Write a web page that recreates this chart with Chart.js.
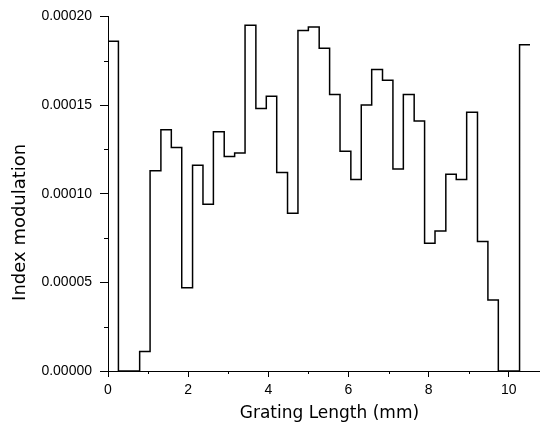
<!DOCTYPE html>
<html>
<head>
<meta charset="utf-8">
<script src="https://cdn.jsdelivr.net/npm/chart.js@4.4.1/dist/chart.umd.min.js"></script>
<style>
  html, body { margin: 0; padding: 0; background: #fff; }
  #wrap { width: 540px; height: 427px; }
</style>
</head>
<body>
<div id="wrap"><canvas id="gratingChart"></canvas></div>
<script>
// section boundaries along the grating (mm), 40 sections
const sectionEdges = [0, 0.26, 0.53, 0.79, 1.05, 1.32, 1.58, 1.84, 2.11, 2.37, 2.63,
    2.90, 3.16, 3.42, 3.69, 3.95, 4.21, 4.48, 4.74, 5.00, 5.27,
    5.53, 5.79, 6.06, 6.32, 6.58, 6.85, 7.11, 7.37, 7.64, 7.90,
    8.16, 8.43, 8.69, 8.95, 9.22, 9.48, 9.74, 10.01, 10.27, 10.53];

// index modulation of each section
const indexModulation = [0.000186, 0, 0, 0.000011, 0.000113, 0.000136, 0.000126, 0.000047, 0.000116, 0.000094,
    0.000135, 0.000121, 0.000123, 0.000195, 0.000148, 0.000155, 0.000112, 0.000089, 0.000192, 0.000194,
    0.000182, 0.000156, 0.000124, 0.000108, 0.000150, 0.000170, 0.000164, 0.000114, 0.000156, 0.000141,
    0.000072, 0.000079, 0.000111, 0.000108, 0.000146, 0.000073, 0.000040, 0, 0, 0.000184];

const xMajorTicks = [0, 2, 4, 6, 8, 10];
const xMinorTicks = [1, 3, 5, 7, 9];
const yMajorTicks = [0, 0.00005, 0.0001, 0.00015, 0.0002];
const yMinorTicks = [0.000025, 0.000075, 0.000125, 0.000175];

// step line: a section's value is held from its start edge to the next edge
const points = sectionEdges.map((x, i) => ({
    x: x,
    y: indexModulation[Math.min(i, indexModulation.length - 1)]
}));

const minorTicks = {
    id: 'minorTicks',
    afterDraw(chart) {
        const ctx = chart.ctx;
        const xs = chart.scales.x;
        const ys = chart.scales.y;
        ctx.save();
        ctx.strokeStyle = '#000';
        ctx.lineWidth = 1;
        ctx.beginPath();
        xMinorTicks.forEach(v => {
            const px = Math.round(xs.getPixelForValue(v)) + 0.5;
            ctx.moveTo(px, ys.bottom);
            ctx.lineTo(px, ys.bottom + 3);
        });
        yMinorTicks.forEach(v => {
            const py = Math.round(ys.getPixelForValue(v)) + 0.5;
            ctx.moveTo(xs.left - 4, py);
            ctx.lineTo(xs.left, py);
        });
        ctx.stroke();
        ctx.restore();
    }
};

const ctx = document.getElementById('gratingChart').getContext('2d');
new Chart(ctx, {
    type: 'line',
    data: {
        datasets: [{
            data: points,
            stepped: 'before',
            borderColor: '#000',
            borderWidth: 1.5,
            pointRadius: 0,
            fill: false
        }]
    },
    options: {
        responsive: true,
        maintainAspectRatio: false,
        animation: false,
        layout: { padding: { top: 15, right: 0, left: 0, bottom: 0 } },
        plugins: {
            legend: { display: false },
            tooltip: { enabled: false }
        },
        scales: {
            x: {
                type: 'linear',
                min: 0,
                max: 10.78,
                afterBuildTicks: s => { s.ticks = xMajorTicks.map(v => ({ value: v })); },
                afterFit: s => { s.height = 56; },
                grid: { drawOnChartArea: false, tickLength: 6, color: '#000' },
                border: { color: '#000', width: 1 },
                ticks: {
                    color: '#000',
                    padding: 5,
                    maxRotation: 0,
                    font: { family: 'Liberation Sans', size: 14 },
                    callback: v => String(v)
                },
                title: {
                    display: true,
                    text: '  Grating Length (mm)',
                    color: '#000',
                    font: { family: 'DejaVu Sans', size: 17 },
                    padding: { top: 0, bottom: 3 }
                }
            },
            y: {
                min: 0,
                max: 0.0002,
                afterBuildTicks: s => { s.ticks = yMajorTicks.map(v => ({ value: v })); },
                afterFit: s => { s.width = 108; },
                grid: { drawOnChartArea: false, tickLength: 8, color: '#000' },
                border: { color: '#000', width: 1 },
                ticks: {
                    color: '#000',
                    padding: 8,
                    font: { family: 'Liberation Sans', size: 14 },
                    callback: v => Number(v).toFixed(5)
                },
                title: {
                    display: true,
                    text: 'Index modulation          ',
                    color: '#000',
                    font: { family: 'DejaVu Sans', size: 18 },
                    padding: { top: 10, bottom: 0 }
                }
            }
        }
    },
    plugins: [minorTicks]
});
</script>
</body>
</html>
